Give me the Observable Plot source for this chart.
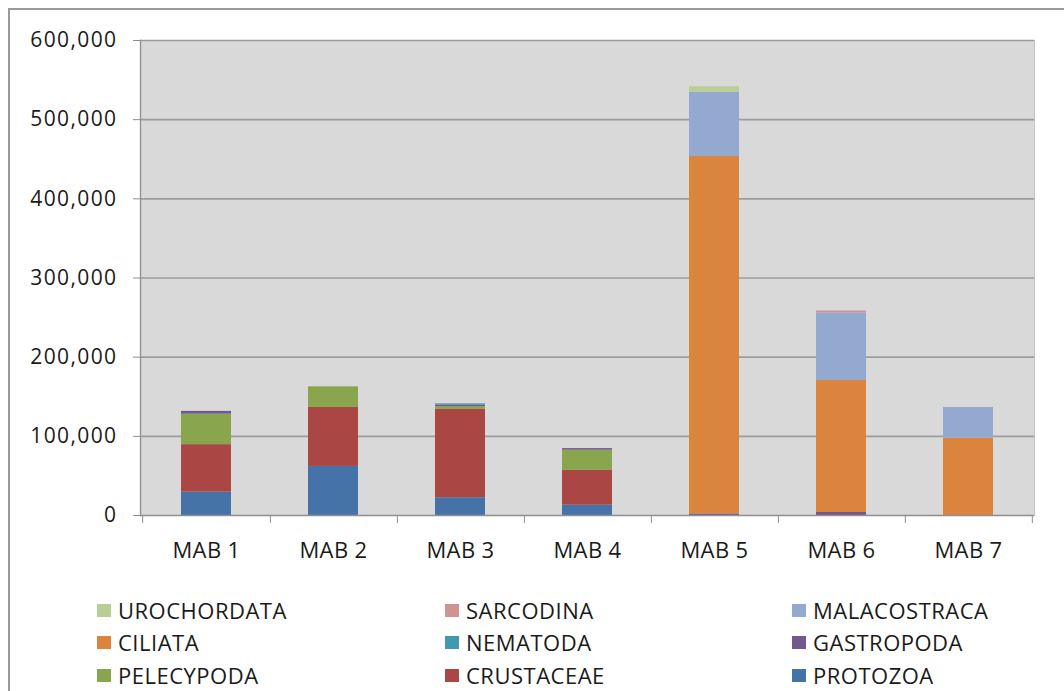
<!DOCTYPE html>
<html>
<head>
<meta charset="utf-8">
<script src="https://cdn.jsdelivr.net/npm/d3@7"></script>
<script src="https://cdn.jsdelivr.net/npm/@observablehq/plot@0.6"></script>
<style>
  html, body { margin: 0; padding: 0; background: #fff; width: 1064px; height: 691px; overflow: hidden; position: relative; }
  #border { position: absolute; left: 8px; top: 8px; width: 1200px; height: 800px; border-left: 2px solid #9a9a9a; border-top: 2px solid #9a9a9a; box-sizing: border-box; }
  #chart { position: absolute; left: 0; top: 0; }
  #legend { position: absolute; left: 0; top: 0; width: 1064px; height: 691px; pointer-events: none; }
  .item { position: absolute; display: flex; align-items: center; font-family: "Open Sans", sans-serif; font-size: 22px; letter-spacing: 0.5px; color: #1a1a1a; height: 30px; white-space: nowrap; }
  .sw { width: 14px; height: 13px; margin-right: 7px; flex: none; }
  g[aria-label="y-axis tick label"] text { letter-spacing: 1.4px; }
  g[aria-label="x-axis tick label"] text { letter-spacing: 0.4px; }
</style>
</head>
<body>
<div id="border"></div>
<div id="chart"></div>
<div id="legend"></div>
<script>
const categories = ["MAB 1", "MAB 2", "MAB 3", "MAB 4", "MAB 5", "MAB 6", "MAB 7"];
const series = ["PROTOZOA", "CRUSTACEAE", "PELECYPODA", "GASTROPODA", "NEMATODA", "CILIATA", "MALACOSTRACA", "SARCODINA", "UROCHORDATA"];
const colors = ["#4572A7", "#AA4643", "#89A54E", "#71588F", "#4198AF", "#DB843D", "#93A9CF", "#D19392", "#B9CD96"];

const protozoa     = [29500, 62000, 22500, 13000, 0, 0, 0];
const crustaceae   = [60000, 74500, 111500, 44000, 0, 0, 0];
const pelecypoda   = [38500, 26000, 3500, 25500, 0, 0, 0];
const gastropoda   = [3500, 0, 2000, 2000, 2000, 3800, 0];
const nematoda     = [0, 0, 1500, 0, 0, 0, 0];
const ciliata      = [0, 0, 0, 0, 451500, 166700, 97600];
const malacostraca = [0, 0, 0, 0, 81000, 85400, 38800];
const sarcodina    = [0, 0, 0, 0, 0, 2500, 0];
const urochordata  = [0, 0, 0, 0, 7000, 0, 0];

const yTicks = [0, 100000, 200000, 300000, 400000, 500000, 600000];

const valuesBySeries = [protozoa, crustaceae, pelecypoda, gastropoda, nematoda, ciliata, malacostraca, sarcodina, urochordata];
const data = [];
series.forEach((s, i) => {
  categories.forEach((c, j) => {
    data.push({ cat: c, series: s, value: valuesBySeries[i][j] });
  });
});

const W = 1064, mL = 140, mR = 30;
const step = (W - mL - mR) / categories.length;
const axisGray = "#8f8f8f";

const chart = Plot.plot({
  width: W,
  height: 560,
  marginLeft: mL,
  marginRight: mR,
  marginTop: 40,
  marginBottom: 45,
  style: { fontFamily: "Open Sans, sans-serif", fontSize: "21px", color: "#1a1a1a", background: "transparent", overflow: "visible" },
  x: { domain: categories, paddingInner: 0.61, paddingOuter: 0.305, label: null },
  y: { domain: [0, 600000], label: null },
  color: { domain: series, range: colors },
  marks: [
    Plot.frame({ fill: "#D9D9D9", stroke: "#c4c4c4" }),
    Plot.gridY(yTicks.filter(d => d > 0), { stroke: "#9c9c9c", strokeOpacity: 1, strokeWidth: 1.6 }),
    Plot.barY(data, { x: "cat", y: "value", fill: "series", order: series }),
    Plot.frame({ anchor: "left", stroke: axisGray, strokeWidth: 1.3 }),
    Plot.ruleY([0], { stroke: axisGray, strokeWidth: 1.6 }),
    Plot.axisY(yTicks, { tickSize: 7, tickPadding: 16, tickFormat: d3.format(","), stroke: axisGray, fontSize: 21, fill: "#1a1a1a" }),
    Plot.axisX(categories, { tickSize: 8, dx: step / 2, tickFormat: () => "", stroke: axisGray }),
    Plot.axisX([categories[0]], { tickSize: 8, dx: -step / 2, tickFormat: () => "", stroke: axisGray }),
    Plot.axisX(categories, { tickSize: 0, tickPadding: 27, fontSize: 22, fill: "#1a1a1a" })
  ]
});
document.getElementById("chart").appendChild(chart);

// Legend (reverse stacking order, 3 columns)
const legendOrder = series.slice().reverse();
const colX = [97, 445, 792];
const rowY = [595, 627, 660];
const legend = document.getElementById("legend");
legendOrder.forEach((s, k) => {
  const col = k % 3, row = Math.floor(k / 3);
  const item = document.createElement("div");
  item.className = "item";
  item.style.left = colX[col] + "px";
  item.style.top = rowY[row] + "px";
  const sw = document.createElement("span");
  sw.className = "sw";
  sw.style.background = colors[series.indexOf(s)];
  const t = document.createElement("span");
  t.textContent = s;
  item.appendChild(sw);
  item.appendChild(t);
  legend.appendChild(item);
});
</script>
</body>
</html>
